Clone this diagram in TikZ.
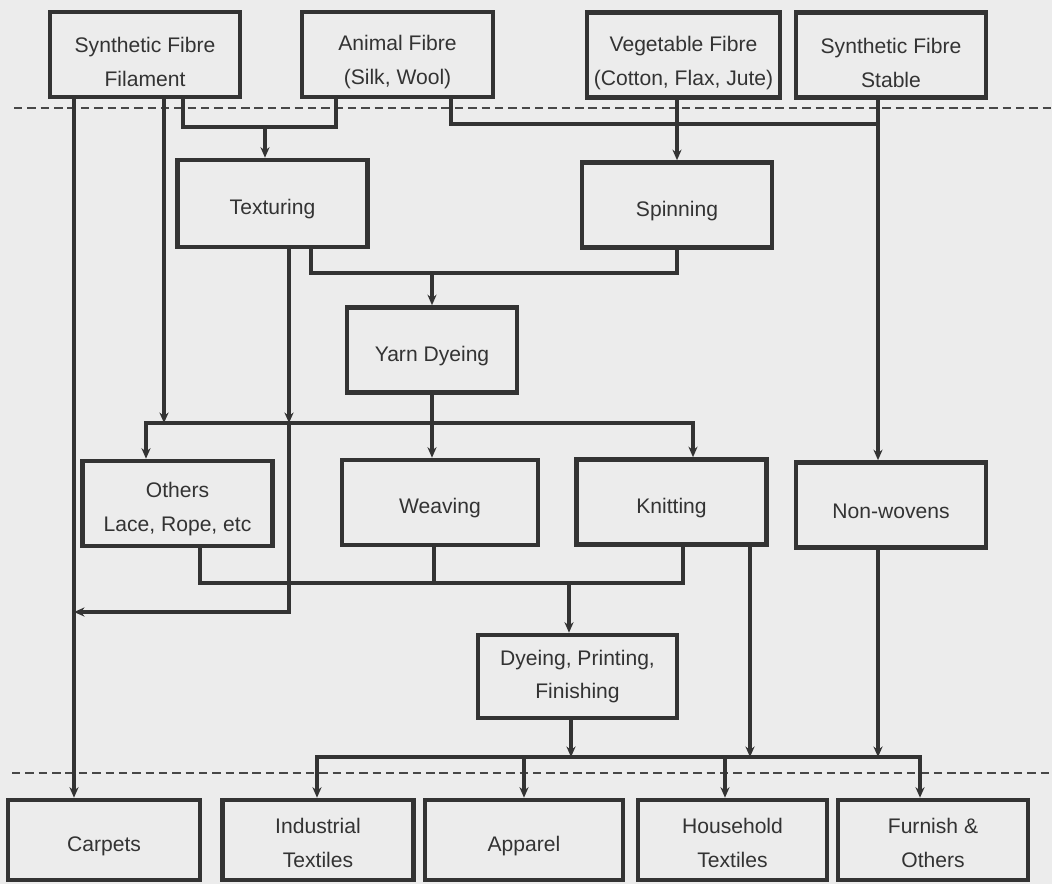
\documentclass[tikz,border=0pt]{standalone}
\usepackage{fontspec}
\setmainfont{Liberation Sans}
\usetikzlibrary{arrows.meta}
\definecolor{ink}{gray}{0.2}
\definecolor{paper}{gray}{0.925}
\newcommand{\liftline}[1]{\rule{0pt}{#1}}

\begin{document}
\begin{tikzpicture}[%
    x=0.025cm, y=-0.025cm,
    >={Stealth[length=7.5pt,width=6.5pt,inset=2.5pt]},
    stage/.style={draw=ink, line width=3.3pt, text=ink, align=center,
        inner sep=0pt, minimum width=4.75cm, minimum height=2.125cm,
        font=\fontsize{15pt}{24pt}\selectfont,
        execute at begin node={\rule{0pt}{19pt}}},
    product/.style={stage, minimum height=2cm},
    link/.style={draw=ink, line width=2.5pt, line join=miter},
    flow/.style={link, ->},
    divider/.style={draw=ink!90, line width=1.5pt, dash pattern=on 6pt off 3.5pt}]
  \fill[paper] (0,0) rectangle (1052,884);
  \useasboundingbox (0,0) rectangle (1052,884);

  % fibres
  \node[stage] (sff) at (145,54.5) {\liftline{22pt}Synthetic Fibre\\Filament};
  \node[stage, minimum width=4.775cm] (af) at (397.5,54.5) {\liftline{22pt}Animal Fibre\\(Silk, Wool)};
  \node[stage, minimum width=4.825cm] (vf) at (683.5,55) {\liftline{22pt}Vegetable Fibre\\(Cotton, Flax, Jute)};
  \node[stage] (sfs) at (891,55) {\liftline{22pt}Synthetic Fibre\\Stable};

  % yarn
  \node[stage, minimum height=2.175cm] (tex) at (272.5,203.5) {Texturing};
  \node[stage] (spin) at (677,205) {Spinning};
  \node[stage, minimum width=4.25cm] (yarn) at (432,350) {Yarn Dyeing};

  % fabric
  \node[stage] (oth) at (177.5,503.5) {\liftline{19pt}Others\\Lace, Rope, etc};
  \node[stage, minimum width=4.9cm] (weave) at (440,502.5) {Weaving};
  \node[stage] (knit) at (671.5,502) {Knitting};
  \node[stage] (nonw) at (891,505) {Non-wovens};
  \node[stage, minimum width=4.975cm, minimum height=2.075cm] (dpf) at (577.5,676.5) {Dyeing, Printing,\\Finishing};

  % end uses
  \node[product, minimum width=4.8cm] (carp) at (104,840) {Carpets};
  \node[product, minimum width=4.775cm] (ind) at (318,840) {\liftline{15pt}Industrial\\Textiles};
  \node[product, minimum width=4.95cm] (app) at (524,840) {Apparel};
  \node[product, minimum width=4.725cm] (house) at (732.5,840) {\liftline{15pt}Household\\Textiles};
  \node[product] (furn) at (933,840) {\liftline{15pt}Furnish \&\\Others};

  \draw[divider] (14,108) -- (1052,108);
  \draw[divider] (12,773) -- (1052,773);

  \coordinate (c1) at (74,612);
  \coordinate (s2) at (164,423);
  \coordinate (t1) at (183,127);
  \coordinate (t2) at (336,127);
  \coordinate (t3) at (265,127);
  \coordinate (n1) at (451,124);
  \coordinate (n2) at (878,124);
  \coordinate (o1) at (289,423);
  \coordinate (y1) at (311,273);
  \coordinate (b1) at (146,423);
  \coordinate (b2) at (693,423);
  \coordinate (d1) at (200,583);
  \coordinate (d2) at (683,583);
  \coordinate (d3) at (434,583);
  \coordinate (d4) at (569,583);
  \coordinate (e1) at (317,757);
  \coordinate (e2) at (920,757);
  \coordinate (e3) at (750,757);
  \coordinate (e4) at (571,757);
  \coordinate (e5) at (725,757);

  \draw[flow] (sff.south -| c1) -- (carp.north -| c1);
  \draw[flow] (sff.south -| s2) -- (s2);
  \draw[link] (sff.south -| t1) -- (t1) -- (t2) -- (af.south -| t2);
  \draw[flow] (t3) -- (tex.north -| t3);
  \draw[link] (af.south -| n1) -- (n1) -- (n2);
  \draw[flow] (sfs.south -| n2) -- (nonw.north -| n2);
  \draw[flow] (vf.south -| spin.north) -- (spin.north);

  \draw[flow] (tex.south -| o1) -- (o1);
  \draw[flow] (o1) -- (c1 -| o1) -- (c1);
  \draw[link] (tex.south -| y1) -- (y1) -| (spin.south);
  \draw[flow] (yarn.north |- y1) -- (yarn.north);
  \draw[flow] (yarn.south) -- (weave.north -| yarn.south);
  \draw[link, <->] (b1 |- oth.north) -- (b1) -- (b2) -- (b2 |- knit.north);

  \draw[link] (oth.south -| d1) -- (d1) -- (d2) -- (knit.south -| d2);
  \draw[link] (weave.south -| d3) -- (d3);
  \draw[flow] (d4) -- (dpf.north -| d4);

  \draw[flow] (dpf.south -| e4) -- (e4);
  \draw[flow] (knit.south -| e3) -- (e3);
  \draw[flow] (nonw.south -| n2) -- (e1 -| n2);
  \draw[link, <->] (e1 |- ind.north) -- (e1) -- (e2) -- (e2 |- furn.north);
  \draw[flow] (e1 -| app.north) -- (app.north);
  \draw[flow] (e5) -- (house.north -| e5);
\end{tikzpicture}
\end{document}
